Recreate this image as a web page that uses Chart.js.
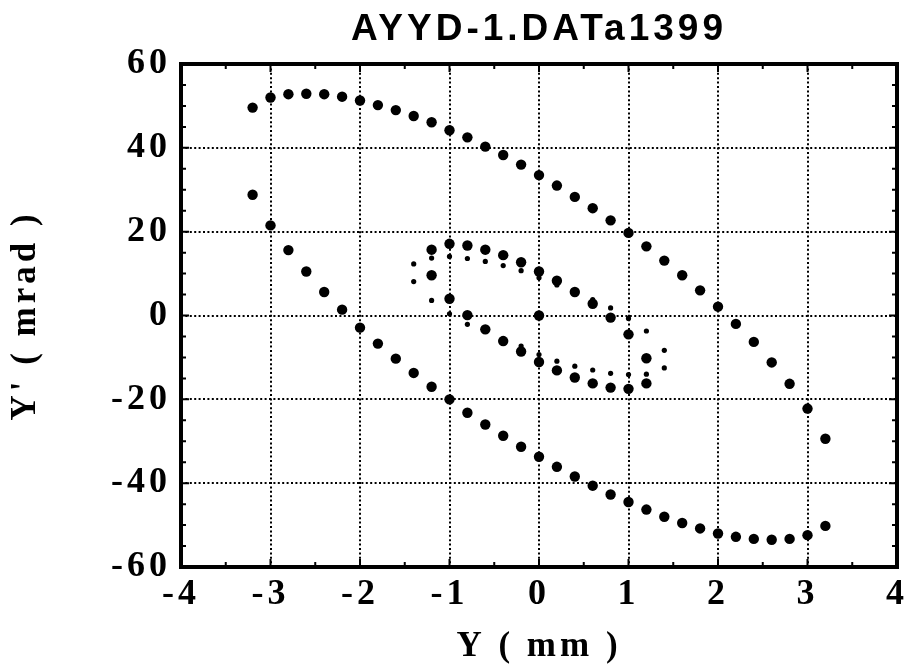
<!DOCTYPE html>
<html lang="en">
<head>
<meta charset="UTF-8">
<title>AYYD-1.DATa1399</title>
<script src="https://cdn.jsdelivr.net/npm/chart.js"></script>
<style>
  html, body { margin: 0; padding: 0; background: #fff; }
</style>
</head>
<body>
<canvas id="phase" width="908" height="670"></canvas>
<script>
// outer ring: upper branch left -> right, then lower branch right -> left
const outerX = [-3.2, -3.0, -2.8, -2.6, -2.4, -2.2, -2.0, -1.8, -1.6, -1.4, -1.2, -1.0, -0.8, -0.6, -0.4, -0.2,
  0.0, 0.2, 0.4, 0.6, 0.8, 1.0, 1.2, 1.4, 1.6, 1.8, 2.0, 2.2, 2.4, 2.6, 2.8, 3.0, 3.2,
  3.2, 3.0, 2.8, 2.6, 2.4, 2.2, 2.0, 1.8, 1.6, 1.4, 1.2, 1.0, 0.8, 0.6, 0.4, 0.2,
  0.0, -0.2, -0.4, -0.6, -0.8, -1.0, -1.2, -1.4, -1.6, -1.8, -2.0, -2.2, -2.4, -2.6, -2.8, -3.0, -3.2];
const outerY = [49.6, 52.0, 52.8, 52.9, 52.8, 52.2, 51.3, 50.2, 49.0, 47.6, 46.1, 44.2, 42.5, 40.3, 38.3, 36.0,
  33.5, 31.0, 28.3, 25.6, 22.7, 19.7, 16.5, 13.1, 9.6, 6.0, 2.1, -2.0, -6.3, -11.2, -16.3, -22.2, -29.4,
  -50.2, -52.4, -53.3, -53.5, -53.3, -52.8, -52.0, -50.8, -49.5, -48.0, -46.3, -44.5, -42.7, -40.6, -38.4, -36.1,
  -33.7, -31.3, -28.7, -26.0, -23.2, -20.0, -17.0, -13.7, -10.3, -6.7, -2.9, 1.4, 5.6, 10.5, 15.6, 21.5, 28.8];

// middle ring plus the centre point
const midX = [-1.2, -1.0, -0.8, -0.6, -0.4, -0.2, 0.0, 0.2, 0.4, 0.6, 0.8, 1.0, 1.2,
  1.2, 1.0, 0.8, 0.6, 0.4, 0.2, 0.0, -0.2, -0.4, -0.6, -0.8, -1.0, -1.2, 0.0];
const midY = [15.7, 17.1, 16.7, 15.7, 14.4, 12.7, 10.5, 8.3, 5.6, 2.8, -0.5, -4.5, -10.2,
  -16.2, -17.5, -17.2, -16.2, -14.8, -13.1, -11.1, -8.6, -6.1, -3.3, 0.1, 4.0, 9.6, 0.0];

// inner ring (small dots)
const innerX = [-1.4, -1.2, -1.0, -0.8, -0.6, -0.4, -0.2, 0.0, 0.2, 0.4, 0.6, 0.8, 1.0, 1.2, 1.4,
  1.4, 1.2, 1.0, 0.8, 0.6, 0.4, 0.2, 0.0, -0.2, -0.4, -0.6, -0.8, -1.0, -1.2, -1.4];
const innerY = [12.3, 13.7, 14.1, 13.6, 12.9, 11.9, 10.7, 9.0, 7.3, 5.6, 3.8, 1.8, -0.7, -3.7, -8.3,
  -12.5, -14.0, -14.1, -13.8, -13.0, -12.1, -10.9, -9.3, -7.3, -5.6, -3.6, -2.1, 0.4, 3.6, 8.1];

const xTicks = [-4, -3, -2, -1, 0, 1, 2, 3, 4];
const yTicks = [-60, -40, -20, 0, 20, 40, 60];

const pts = (xs, ys) => xs.map((x, i) => ({ x: x, y: ys[i] }));

const serif = "'Liberation Serif', 'Times New Roman', serif";
const spacing = '4px';
const dots = [2, 2.4];

// white page, letter spacing, black frame and inward tick marks
const framePlugin = {
  id: 'frame',
  beforeUpdate(chart) { chart.ctx.letterSpacing = spacing; },
  beforeDraw(chart) {
    const ctx = chart.ctx;
    ctx.save();
    ctx.fillStyle = '#fff';
    ctx.fillRect(0, 0, chart.width, chart.height);
    ctx.restore();
    ctx.letterSpacing = spacing;
  },
  afterDraw(chart) {
    const ctx = chart.ctx;
    const a = chart.chartArea;
    const xs = chart.scales.x, ys = chart.scales.y;
    ctx.save();
    ctx.strokeStyle = '#000';
    ctx.lineWidth = 2;
    ctx.beginPath();
    for (let v = -3.5; v < 4; v += 0.5) {
      const len = Number.isInteger(v) ? 8 : 5;
      const p = xs.getPixelForValue(v);
      ctx.moveTo(p, a.bottom); ctx.lineTo(p, a.bottom - len);
      ctx.moveTo(p, a.top); ctx.lineTo(p, a.top + len);
    }
    for (let v = -55; v < 60; v += 5) {
      const len = v % 20 === 0 ? 8 : 5;
      const p = ys.getPixelForValue(v);
      ctx.moveTo(a.left, p); ctx.lineTo(a.left + len, p);
      ctx.moveTo(a.right, p); ctx.lineTo(a.right - len, p);
    }
    ctx.stroke();
    ctx.lineWidth = 4;
    ctx.strokeRect(a.left, a.top, a.right - a.left, a.bottom - a.top);
    ctx.restore();
  }
};

new Chart(document.getElementById('phase'), {
  type: 'scatter',
  data: {
    datasets: [
      { data: pts(outerX, outerY), pointRadius: 5.2, backgroundColor: '#000', borderWidth: 0 },
      { data: pts(midX, midY), pointRadius: 5.2, backgroundColor: '#000', borderWidth: 0 },
      { data: pts(innerX, innerY), pointRadius: 2.6, backgroundColor: '#000', borderWidth: 0 }
    ]
  },
  options: {
    responsive: false,
    animation: false,
    events: [],
    layout: { padding: { left: 0, right: 11, top: 0, bottom: 0 } },
    plugins: {
      legend: { display: false },
      tooltip: { enabled: false },
      title: {
        display: true,
        fullSize: false,
        text: 'AYYD-1.DATa1399',
        color: '#000',
        font: { family: "'Liberation Sans', Arial, sans-serif", size: 37, weight: 'bold', lineHeight: 1.2 },
        padding: { top: 8, bottom: 11.6 }
      }
    },
    scales: {
      x: {
        type: 'linear',
        min: -4, max: 4,
        afterFit(s) { s.height = 103; s.paddingLeft = 0; s.paddingRight = 0; },
        afterBuildTicks(s) { s.ticks = xTicks.map(v => ({ value: v })); },
        grid: { color: '#000', lineWidth: 2, drawTicks: false, borderDash: dots },
        border: { display: false, dash: dots },
        ticks: {
          color: '#000', padding: 6,
          font: { family: serif, size: 36, weight: 'bold' },
          maxRotation: 0,
          callback: v => String(v)
        },
        title: {
          display: true, text: 'Y ( mm )', color: '#000',
          font: { family: serif, size: 35, weight: 'bold' },
          padding: { top: 0, bottom: 2 }
        }
      },
      y: {
        type: 'linear',
        min: -60, max: 60,
        afterFit(s) { s.width = 181; s.paddingTop = 0; s.paddingBottom = 0; },
        afterBuildTicks(s) { s.ticks = yTicks.map(v => ({ value: v })); },
        grid: { color: '#000', lineWidth: 2, drawTicks: false, borderDash: dots },
        border: { display: false, dash: dots },
        ticks: {
          color: '#000', padding: 10,
          font: { family: serif, size: 36, weight: 'bold' },
          callback: v => String(v)
        },
        title: {
          display: true, text: "Y' ( mrad )", color: '#000',
          font: { family: serif, size: 35, weight: 'bold' },
          padding: { top: 5, bottom: 0 }
        }
      }
    }
  },
  plugins: [framePlugin]
});
</script>
</body>
</html>
